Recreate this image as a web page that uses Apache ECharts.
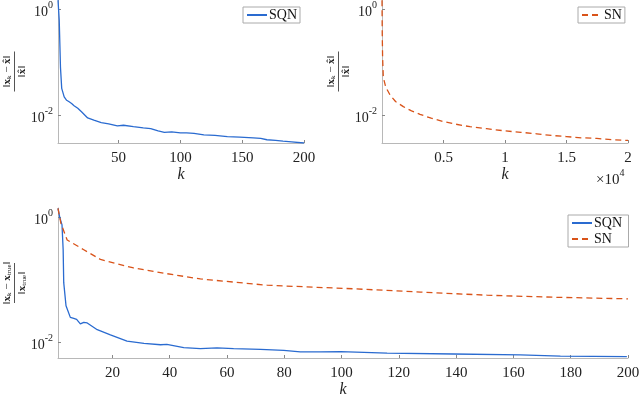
<!DOCTYPE html>
<html>
<head>
<meta charset="utf-8">
<script src="https://cdn.jsdelivr.net/npm/echarts@6/dist/echarts.min.js"></script>
<style>
  html, body { margin: 0; padding: 0; background: #fff; }
  #chart { width: 640px; height: 395px; }
</style>
</head>
<body>
<div id="chart"></div>
<script>
// top-left: SQN, relative error vs iteration k (1..200)
const kSqnTop = [1, 2, 3, 4, 6, 8, 9, 10, 12, 14, 17, 20, 25, 30, 36, 42, 49, 54, 62, 70, 76, 82, 87, 93, 100, 105, 111, 119, 128, 138, 148, 159, 165, 170, 177, 183, 190, 200]
const errSqnTop = [1.5, 0.62, 0.08, 0.032, 0.022, 0.019, 0.020, 0.0178, 0.0165, 0.015, 0.0134, 0.0115, 0.0088, 0.0080, 0.0072, 0.0068, 0.0062, 0.0064, 0.0060, 0.0057, 0.0055, 0.0050, 0.0047, 0.0048, 0.0046, 0.0046, 0.0045, 0.0042, 0.0041, 0.0039, 0.0038, 0.0037, 0.0036, 0.0034, 0.0033, 0.0032, 0.0031, 0.00295]

// top-right: SN, relative error vs iteration k (1..20000)
const kSnTop = [1, 20, 50, 106, 300, 650, 1100, 1734, 2400, 3090, 4000, 5000, 6000, 7150, 8500, 10000, 11300, 12580, 13800, 15000, 16200, 17460, 18700, 20000]
const errSnTop = [1.5, 0.35, 0.12, 0.052, 0.034, 0.024, 0.018, 0.0144, 0.0120, 0.0103, 0.0087, 0.0075, 0.0067, 0.0060, 0.0055, 0.0050, 0.0047, 0.0044, 0.0041, 0.0039, 0.0037, 0.0036, 0.0034, 0.0033]

// bottom: both methods over the first 200 iterations
const kSqnBot = [1, 1.6, 2.4, 2.8, 3, 3.8, 5.3, 6.5, 7.5, 8.8, 10, 11.2, 14.7, 19.3, 25.1, 31, 36.8, 39, 44.9, 50.7, 56.5, 62.3, 71.7, 79.8, 85.6, 92.6, 99.6, 115.9, 139, 162.4, 176.4, 199.6]
const errSqnBot = [1.38, 1.0, 0.75, 0.30, 0.089, 0.038, 0.0247, 0.0238, 0.023, 0.0194, 0.0206, 0.0201, 0.0157, 0.0130, 0.0103, 0.0095, 0.0090, 0.0091, 0.0081, 0.0078, 0.0080, 0.0078, 0.0076, 0.0073, 0.0069, 0.0069, 0.0070, 0.0066, 0.0064, 0.0062, 0.0059, 0.0058]
const kSnBot = [1, 2, 4.2, 10, 15.8, 27.4, 39, 50.7, 62.3, 74, 91.4, 104, 127.5, 150.8, 174, 200]
const errSnBot = [1.38, 0.8, 0.43, 0.30, 0.21, 0.153, 0.124, 0.102, 0.091, 0.081, 0.075, 0.071, 0.063, 0.056, 0.052, 0.049]

const xTicksTop = [50, 100, 150, 200]
const xTicksTopRight = [5000, 10000, 15000, 20000]
const xTicksBot = [20, 40, 60, 80, 100, 120, 140, 160, 180, 200]
const yTicks = [1, 0.01]

const SERIF = 'Liberation Serif'
const AXIS_GRAY = '#b8b8b8'
const BLUE = '#2a6bd0'
const ORANGE = '#d95319'

function pairs(xs, ys) {
  return xs.map((x, i) => [x, ys[i]])
}

function powLabel(v) {
  const e = Math.round(Math.log10(v))
  return '{b|10}{s|' + e + '}'
}

const powRich = {
  b: { fontFamily: SERIF, fontSize: 14, lineHeight: 16, padding: [6, 0, 0, 0], color: '#222' },
  s: { fontFamily: SERIF, fontSize: 10, lineHeight: 10, padding: [0, 0, 8, 0], color: '#222' }
}

const nameRich = {
  n: { fontFamily: SERIF, fontSize: 11, lineHeight: 12, color: '#222' },
  x: { fontFamily: SERIF, fontSize: 11, fontWeight: 'bold', lineHeight: 12, color: '#222' },
  sub: { fontFamily: SERIF, fontSize: 7, lineHeight: 8, padding: [4, 0, 0, 0], color: '#222' },
  bar: { height: 1, width: 40, lineHeight: 3, backgroundColor: '#555' }
}

function xAxisCfg(idx, min, max, ticks, fmt) {
  return {
    gridIndex: idx,
    type: 'value',
    min: min,
    max: max,
    name: 'k',
    nameLocation: 'middle',
    nameGap: 24,
    nameMoveOverlap: false,
    nameTextStyle: { fontFamily: SERIF, fontStyle: 'italic', fontSize: 16, color: '#222' },
    axisLine: { lineStyle: { color: AXIS_GRAY, width: 1 } },
    axisTick: { inside: true, length: 3, customValues: ticks, lineStyle: { color: '#888' } },
    axisLabel: { customValues: ticks, fontFamily: SERIF, fontSize: 15, color: '#222', margin: 8, formatter: fmt },
    splitLine: { show: false }
  }
}

function yAxisCfg(idx, min, max, name) {
  return {
    gridIndex: idx,
    type: 'log',
    logBase: 10,
    min: min,
    max: max,
    name: name,
    nameLocation: 'middle',
    nameGap: 30,
    nameRotate: 90,
    nameMoveOverlap: false,
    nameTextStyle: { rich: nameRich, align: 'center' },
    axisLine: { lineStyle: { color: AXIS_GRAY, width: 1 } },
    axisTick: { inside: true, length: 3, customValues: yTicks, lineStyle: { color: '#888' } },
    axisLabel: { customValues: yTicks, formatter: powLabel, rich: powRich, margin: 5 },
    splitLine: { show: false }
  }
}

const nameTop = '{n|‖}{x|x}{sub|k}{n| − }{x|x̂}{n|‖}\n{bar| }\n{n|‖}{x|x̂}{n|‖}'
const nameBot = '{n|‖}{x|x}{sub|k}{n| − }{x|x}{sub|true}{n|‖}\n{bar| }\n{n|‖}{x|x}{sub|true}{n|‖}'

function legendCfg(left, top, names) {
  return {
    left: left,
    top: top,
    orient: 'vertical',
    data: names,
    itemWidth: 20,
    itemHeight: 10,
    itemGap: 2,
    padding: [1, 3, 1, 3],
    borderColor: '#aaa',
    borderWidth: 1,
    borderRadius: 0,
    backgroundColor: '#fff',
    itemStyle: { opacity: 0 },
    textStyle: { fontFamily: SERIF, fontSize: 14, color: '#111', padding: [0, 0, 0, -3] }
  }
}

const chart = echarts.init(document.getElementById('chart'))

chart.setOption({
  animation: false,
  backgroundColor: '#fff',
  grid: [
    { left: 58, top: 0, width: 246, height: 143, outerBoundsMode: 'none' },
    { left: 382, top: 0, width: 246, height: 143, outerBoundsMode: 'none' },
    { left: 58, top: 208, width: 570, height: 150, outerBoundsMode: 'none' }
  ],
  xAxis: [
    xAxisCfg(0, 1, 200, xTicksTop, v => String(v)),
    xAxisCfg(1, 0, 20000, xTicksTopRight, v => String(v / 10000)),
    xAxisCfg(2, 1, 200, xTicksBot, v => String(v))
  ],
  yAxis: [
    yAxisCfg(0, 0.00295, 1.51, nameTop),
    yAxisCfg(1, 0.00295, 1.51, nameTop),
    yAxisCfg(2, 0.00552, 1.40, nameBot)
  ],
  legend: [
    legendCfg(243, 7, [{ name: 'SQN' }]),
    legendCfg(578, 7, [{ name: 'SN' }]),
    legendCfg(568, 215, [{ name: 'SQN ' }, { name: 'SN ' }])
  ],
  graphic: [{
    type: 'text',
    left: 596,
    top: 167,
    style: {
      text: '{b|×10}{s|4}',
      rich: {
        b: { fontFamily: SERIF, fontSize: 15, lineHeight: 16, padding: [6, 0, 0, 0], fill: '#222' },
        s: { fontFamily: SERIF, fontSize: 10, lineHeight: 10, padding: [0, 0, 8, 0], fill: '#222' }
      }
    }
  }],
  series: [
    {
      name: 'SQN', type: 'line', xAxisIndex: 0, yAxisIndex: 0, symbol: 'none',
      color: BLUE, lineStyle: { color: BLUE, width: 1.3 },
      data: pairs(kSqnTop, errSqnTop)
    },
    {
      name: 'SN', type: 'line', xAxisIndex: 1, yAxisIndex: 1, symbol: 'none',
      color: ORANGE, lineStyle: { color: ORANGE, width: 1.3, type: [6, 4] },
      data: pairs(kSnTop, errSnTop)
    },
    {
      name: 'SQN ', type: 'line', xAxisIndex: 2, yAxisIndex: 2, symbol: 'none',
      color: BLUE, lineStyle: { color: BLUE, width: 1.3 },
      data: pairs(kSqnBot, errSqnBot)
    },
    {
      name: 'SN ', type: 'line', xAxisIndex: 2, yAxisIndex: 2, symbol: 'none',
      color: ORANGE, lineStyle: { color: ORANGE, width: 1.3, type: [6, 4] },
      data: pairs(kSnBot, errSnBot)
    }
  ]
})
</script>
</body>
</html>
